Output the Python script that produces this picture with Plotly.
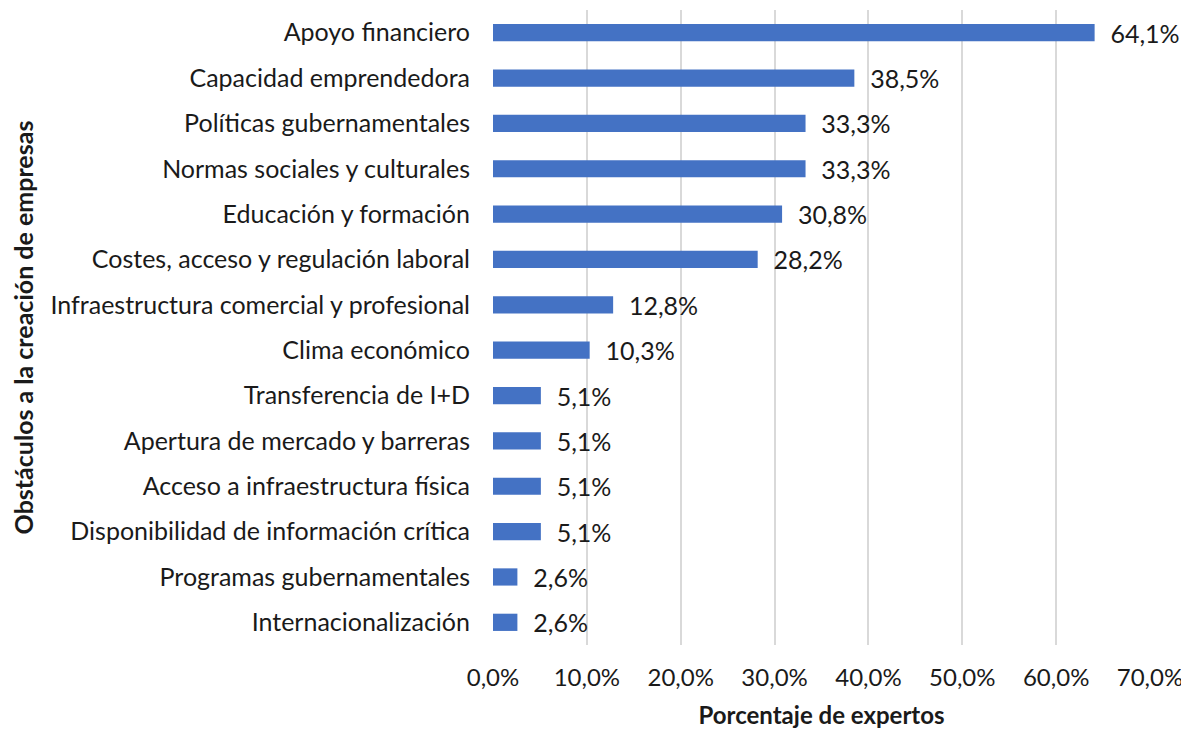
import plotly.graph_objects as go

categories = [
    "Apoyo financiero",
    "Capacidad emprendedora",
    "Políticas gubernamentales",
    "Normas sociales y culturales",
    "Educación y formación",
    "Costes, acceso y regulación laboral",
    "Infraestructura comercial y profesional",
    "Clima económico",
    "Transferencia de I+D",
    "Apertura de mercado y barreras",
    "Acceso a infraestructura física",
    "Disponibilidad de información crítica",
    "Programas gubernamentales",
    "Internacionalización",
]
values = [64.1, 38.5, 33.3, 33.3, 30.8, 28.2, 12.8, 10.3, 5.1, 5.1, 5.1, 5.1, 2.6, 2.6]
x_ticks = [0, 10, 20, 30, 40, 50, 60, 70]
x_tick_labels = [f"{v:.1f}%".replace(".", ",") for v in x_ticks]

FONT = "Lato"
TXT = "#1a1a1a"
FS = 25

fig = go.Figure(go.Bar(
    x=values,
    y=categories,
    orientation="h",
    marker=dict(color="#4472C4", line=dict(width=0)),
    width=0.38,
    texttemplate="\u00a0\u00a0%{x:.1f}%",
    textposition="outside",
    constraintext="none",
    textfont=dict(family=FONT, size=FS, color=TXT),
    cliponaxis=False,
    hoverinfo="skip",
))

fig.update_layout(
    width=1181, height=721,
    margin=dict(l=485, r=39, t=2, b=84),
    plot_bgcolor="white", paper_bgcolor="white",
    separators=",.",
    font=dict(family=FONT, size=FS, color=TXT),
    showlegend=False,
    bargap=0.6,
)
fig.update_xaxes(
    range=[0, 70],
    tickvals=x_ticks,
    ticktext=x_tick_labels,
    showgrid=True, gridcolor="#d9d9d9", gridwidth=2,
    zeroline=False, showline=False,
    ticks="", ticklabelstandoff=16,
    tickfont=dict(family=FONT, size=24, color=TXT),
    title=dict(text="<b>Porcentaje de expertos</b>", standoff=20,
               font=dict(family=FONT, size=24, color=TXT)),
    automargin=False,
)
fig.update_yaxes(
    categoryorder="array", categoryarray=categories,
    showgrid=False, zeroline=False, showline=False,
    ticks="", ticklabelstandoff=22,
    tickfont=dict(family=FONT, size=FS, color=TXT),
    title=dict(text="<b>Obstáculos a la creación de empresas</b>", standoff=10,
               font=dict(family=FONT, size=FS, color=TXT)),
    automargin=False,
    range=[13.5, -0.5],
)

fig.write_html("out.html")
